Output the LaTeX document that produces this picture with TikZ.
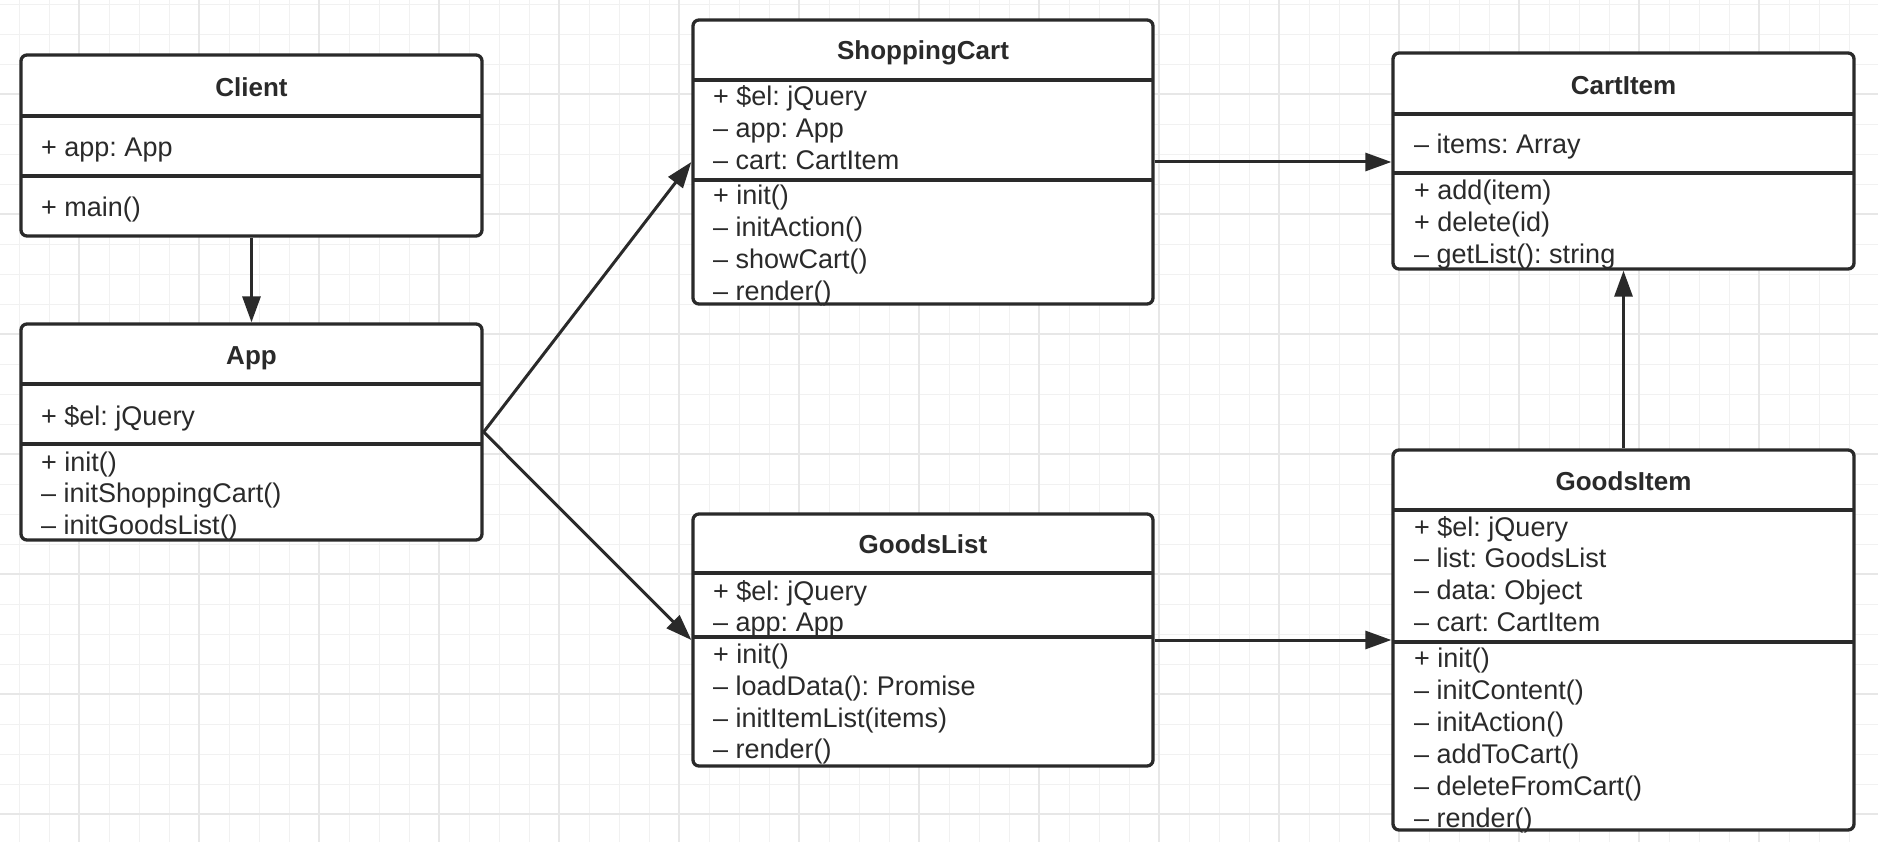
\documentclass[tikz,border=0pt]{standalone}
\usepackage{fontspec}
\setmainfont{Liberation Sans}
\usetikzlibrary{arrows.meta}
\definecolor{ink}{HTML}{2A2A2A}
\definecolor{txtc}{HTML}{2A2A2A}
\definecolor{gminor}{HTML}{F1F1F1}
\definecolor{gmajor}{HTML}{E7E7E7}
\frenchspacing
\newcommand\umlbox[7]{%
  \node[cls, minimum width={#4-#2}, minimum height={#5-#3}] (#1) at ({(#2+#4)/2},{(#3+#5)/2}) {};
  \draw[div] (#2,#6) -- (#4,#6);
  \draw[div] (#2,#7) -- (#4,#7);
}
\begin{document}
\begin{tikzpicture}[x=1pt,y=-1pt,
  cls/.style={draw=ink, line width=3.3pt, rounded corners=6pt, fill=white, inner sep=0pt},
  div/.style={draw=ink, line width=3.3pt},
  txt/.style={anchor=base west, inner sep=0pt, text=txtc, font=\fontsize{27}{32}\selectfont},
  ttl/.style={anchor=base, inner sep=0pt, text=txtc, font=\bfseries\fontsize{26}{30}\selectfont},
  conn/.style={draw=ink, line width=3pt, -{Triangle[length=26pt,width=18pt]}}]
\useasboundingbox (0,0) rectangle (1878,842);
\fill[white] (0,0) rectangle (1878,842);
% grid
\foreach \gx in {19.3,49.3,...,1878} \draw[gminor, line width=1.4pt] (\gx,0) -- (\gx,842);
\foreach \gy in {4.3,34.3,...,842} \draw[gminor, line width=1.4pt] (0,\gy) -- (1878,\gy);
\foreach \gx in {79.3,199.3,...,1878} \draw[gmajor, line width=1.7pt] (\gx,0) -- (\gx,842);
\foreach \gy in {94.3,214.3,...,842} \draw[gmajor, line width=1.7pt] (0,\gy) -- (1878,\gy);
% boxes
\umlbox{client}{21}{55}{482}{236}{116}{176}
\umlbox{app}{21}{324}{482}{540}{384}{444}
\umlbox{sc}{693}{20}{1153}{304}{80}{180}
\umlbox{gl}{693}{514}{1153}{766}{573}{637}
\umlbox{ci}{1393}{53}{1854}{269}{114}{173}
\umlbox{gi}{1393}{450}{1854}{830}{510}{642}
% titles
\node[ttl] (client-t) at (251.5,96.5) {Client};
\node[ttl] (app-t) at (251.5,364.5) {App};
\node[ttl] (sc-t) at (923,60) {ShoppingCart};
\node[ttl] (gl-t) at (923,553) {GoodsList};
\node[ttl] (ci-t) at (1623.5,95) {CartItem};
\node[ttl] (gi-t) at (1623.5,490) {GoodsItem};
% members
\node[txt] (client-a1) at (41,157) {+ app: App};
\node[txt] (client-m1) at (41,217) {+ main()};
\node[txt] (app-a1) at (41,425) {+ \$el: jQuery};
\foreach \yy/\lbl [count=\i] in {471/{+ init()},502.5/{– initShoppingCart()},534/{– initGoodsList()}}
  \node[txt] (app-m\i) at (41,\yy) {\lbl};
\foreach \yy/\lbl [count=\i] in {106/{+ \$el: jQuery},138/{– app: App},170/{– cart: CartItem}}
  \node[txt] (sc-a\i) at (713,\yy) {\lbl};
\foreach \yy/\lbl [count=\i] in {205/{+ init()},237/{– initAction()},269/{– showCart()},300/{– render()}}
  \node[txt] (sc-m\i) at (713,\yy) {\lbl};
\foreach \yy/\lbl [count=\i] in {600/{+ \$el: jQuery},631/{– app: App}}
  \node[txt] (gl-a\i) at (713,\yy) {\lbl};
\foreach \yy/\lbl [count=\i] in {663/{+ init()},695/{– loadData(): Promise},727/{– initItemList(items)},758/{– render()}}
  \node[txt] (gl-m\i) at (713,\yy) {\lbl};
\node[txt] (ci-a1) at (1414,154) {– items: Array};
\foreach \yy/\lbl [count=\i] in {199.5/{+ add(item)},231.5/{+ delete(id)},263.5/{– getList(): string}}
  \node[txt] (ci-m\i) at (1414,\yy) {\lbl};
\foreach \yy/\lbl [count=\i] in {536/{+ \$el: jQuery},567/{– list: GoodsList},599/{– data: Object},631/{– cart: CartItem}}
  \node[txt] (gi-a\i) at (1414,\yy) {\lbl};
\foreach \yy/\lbl [count=\i] in {667/{+ init()},699/{– initContent()},731/{– initAction()},763/{– addToCart()},795/{– deleteFromCart()},827/{– render()}}
  \node[txt] (gi-m\i) at (1414,\yy) {\lbl};
% connectors
\draw[conn] (client) -- (app);
\draw[conn] (app.east) -- (sc.west);
\draw[conn] (app.east) -- (gl.west);
\draw[conn] (sc.east) -- (sc.east -| ci.west);
\draw[conn] (gl.east) -- (gl.east -| gi.west);
\draw[conn] (gi.north) -- (ci.south);
\end{tikzpicture}
\end{document}
